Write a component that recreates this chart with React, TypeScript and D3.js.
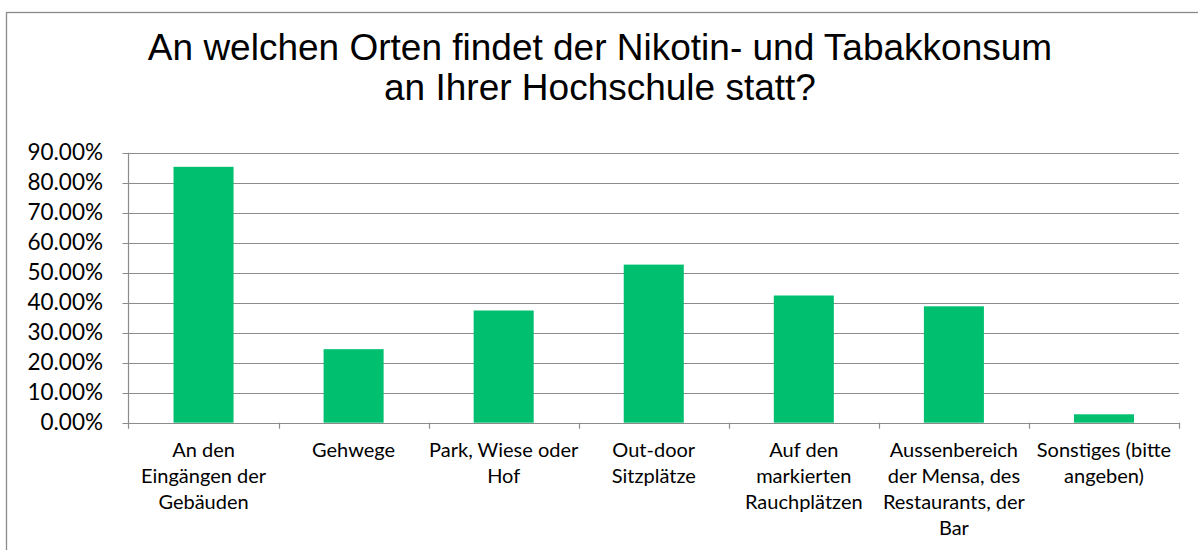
import React from "react";
import * as d3 from "d3";

const titleLines = [
  "An welchen Orten findet der Nikotin- und Tabakkonsum",
  "an Ihrer Hochschule statt?",
];

const categories = [
  "An den\nEingängen der\nGebäuden",
  "Gehwege",
  "Park, Wiese oder\nHof",
  "Out-door\nSitzplätze",
  "Auf den\nmarkierten\nRauchplätzen",
  "Aussenbereich\nder Mensa, des\nRestaurants, der\nBar",
  "Sonstiges (bitte\nangeben)",
];

const values = [0.853, 0.245, 0.374, 0.527, 0.424, 0.388, 0.028];

const yTicks = [0, 0.1, 0.2, 0.3, 0.4, 0.5, 0.6, 0.7, 0.8, 0.9];

const W = 1198;
const H = 550;
const plotLeft = 128.5;
const plotRight = 1179;
const plotTop = 152.7;
const plotBottom = 422.7;

export default function App() {
  const x = d3
    .scaleBand<string>()
    .domain(categories)
    .range([plotLeft, plotRight])
    .paddingInner(0.6)
    .paddingOuter(0.3);
  const y = d3.scaleLinear().domain([0, 0.9]).range([plotBottom, plotTop]);
  const fmt = (v: number) => (v * 100).toFixed(2) + "%";
  const step = x.step();
  const catFont = "Lato, 'Open Sans', sans-serif";
  const gridColor = "#8c8c8c";

  return (
    <svg
      width={W}
      height={H}
      style={{ position: "absolute", left: 0, top: 0, background: "#fff" }}
    >
      <rect x={0} y={0} width={W} height={H} fill="#fff" />
      <rect
        x={6.5}
        y={12.5}
        width={W + 10}
        height={H + 10}
        fill="none"
        stroke="#8a8a8a"
        strokeWidth={1.3}
      />
      {titleLines.map((t, i) => (
        <text
          key={i}
          x={600}
          y={60 + i * 40}
          textAnchor="middle"
          fontFamily="'Liberation Sans', Arial, sans-serif"
          fontSize={37}
          fill="#000"
        >
          {t}
        </text>
      ))}
      {/* gridlines */}
      {yTicks.map((t) => (
        <line
          key={"g" + t}
          x1={plotLeft - 6}
          x2={plotRight}
          y1={Math.round(y(t)) + 0.5}
          y2={Math.round(y(t)) + 0.5}
          stroke={gridColor}
          strokeWidth={1.2}
        />
      ))}
      {/* y axis line */}
      <line
        x1={plotLeft}
        x2={plotLeft}
        y1={plotTop}
        y2={plotBottom + 6}
        stroke={gridColor}
        strokeWidth={1.2}
      />
      {/* y tick labels */}
      {yTicks.map((t) => (
        <text
          key={"l" + t}
          x={103}
          y={y(t) + 7.5}
          textAnchor="end"
          fontFamily={catFont}
          fontSize={22.5}
          fill="#000"
        >
          {fmt(t)}
        </text>
      ))}
      {/* x category ticks */}
      {categories.map((c, i) => {
        const xx = plotLeft + i * step + step;
        return (
          <line
            key={"t" + i}
            x1={Math.round(xx) + 0.5}
            x2={Math.round(xx) + 0.5}
            y1={plotBottom}
            y2={plotBottom + 6}
            stroke={gridColor}
            strokeWidth={1.2}
          />
        );
      })}
      {/* bars */}
      {categories.map((c, i) => (
        <rect
          key={"b" + i}
          x={x(c)!}
          y={y(values[i])}
          width={x.bandwidth()}
          height={plotBottom - y(values[i])}
          fill="#00BF6F"
        />
      ))}
      {/* category labels */}
      {categories.map((c, i) => {
        const cx = plotLeft + i * step + step / 2;
        return (
          <text
            key={"c" + i}
            textAnchor="middle"
            fontFamily={catFont}
            fontSize={20}
            fill="#000"
          >
            {c.split("\n").map((line, j) => (
              <tspan key={j} x={cx} y={457 + j * 26}>
                {line}
              </tspan>
            ))}
          </text>
        );
      })}
    </svg>
  );
}
